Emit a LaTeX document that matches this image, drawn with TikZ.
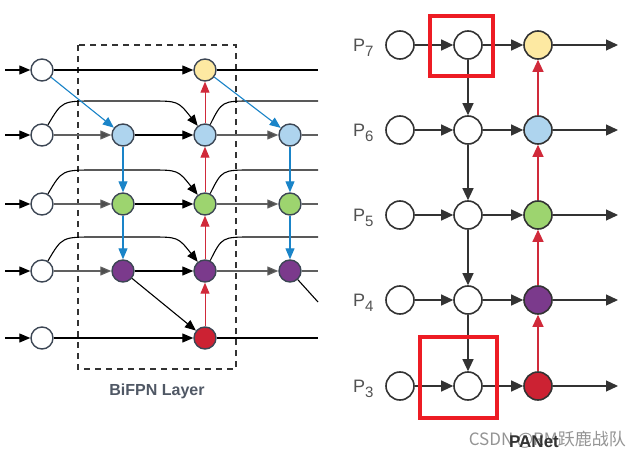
\documentclass[tikz,border=0pt]{standalone}
\usepackage{fontspec}
\setmainfont{Liberation Sans}
\newfontfamily\cjk{Noto Sans CJK SC}
\usetikzlibrary{arrows.meta}
\definecolor{nline}{HTML}{3C4654}
\definecolor{cyel}{HTML}{FDE9A2}
\definecolor{cblue}{HTML}{AED4EE}
\definecolor{cgreen}{HTML}{9DD46F}
\definecolor{cpurp}{HTML}{7B3A8C}
\definecolor{cred}{HTML}{CC2233}
\definecolor{ablue}{HTML}{1A84C8}
\definecolor{agray}{HTML}{606060}
\definecolor{ared}{HTML}{D02A3A}
\definecolor{boxred}{HTML}{ED1C24}
\definecolor{dgray}{HTML}{333333}
\newcommand{\plabel}[1]{P\raisebox{-5pt}{\fontsize{15}{16}\selectfont #1}}
\tikzset{
  lnode/.style={circle,minimum size=22pt,inner sep=0pt,draw=nline,line width=1.4pt,fill=white},
  rnode/.style={circle,minimum size=28pt,inner sep=0pt,draw=dgray,line width=1.6pt,fill=white},
  blk/.style={draw=black,line width=1.1pt,-{Triangle[length=11pt,width=9pt]}},
  blkl/.style={draw=black,line width=1.1pt},
  gry/.style={draw=agray,line width=1.1pt,-{Triangle[length=11pt,width=9pt,fill=agray!80!black]}},
  gryl/.style={draw=agray,line width=1.1pt},
  blu/.style={draw=ablue,line width=1.1pt,-{Triangle[length=11pt,width=9pt]}},
  redl/.style={draw=ared,line width=1pt,-{Triangle[length=11pt,width=9pt]}},
  parr/.style={draw=dgray,line width=1.2pt,-{Triangle[length=12pt,width=11pt]}},
  pred/.style={draw=ared,line width=1.1pt,-{Triangle[length=12pt,width=11pt]}},
  hbox/.style={draw=boxred,line width=4pt},
  plab/.style={text=dgray!85!white,font=\fontsize{18}{20}\selectfont,inner sep=0pt}
}
\begin{document}
\begin{tikzpicture}[x=1pt,y=-1pt]
\fill[white] (0,0) rectangle (641,458);
\useasboundingbox (0,0) rectangle (641,458);
% ---------------- BiFPN ----------------
\draw[draw=dgray,line width=1.5pt,dash pattern=on 6pt off 5pt] (78,45) rectangle (236,369);
\foreach \n/\y in {7/70,6/135,5/204,4/271,3/338}{
  \node[lnode] (i\n) at (42,\y) {};
  \coordinate (s\n) at (5,\y);
  \coordinate (r\n) at (318,\y);
  \draw[blk] (s\n) -- (i\n);
}
\node[lnode,fill=cblue] (a6) at (123,135) {};
\node[lnode,fill=cgreen] (a5) at (123,204) {};
\node[lnode,fill=cpurp] (a4) at (123,271) {};
\node[lnode,fill=cyel] (b7) at (205,70) {};
\node[lnode,fill=cblue] (b6) at (205,135) {};
\node[lnode,fill=cgreen] (b5) at (205,204) {};
\node[lnode,fill=cpurp] (b4) at (205,271) {};
\node[lnode,fill=cred] (b3) at (205,338) {};
\node[lnode,fill=cblue] (c6) at (290,135) {};
\node[lnode,fill=cgreen] (c5) at (290,204) {};
\node[lnode,fill=cpurp] (c4) at (290,271) {};
\coordinate (d4) at (318,302);
% row 7 and 3
\draw[blk] (i7) -- (b7);
\draw[blkl] (b7) -- (r7);
\draw[blk] (i3) -- (b3);
\draw[blkl] (b3) -- (r3);
% rows 6,5,4
\foreach \n in {6,5,4}{
  \draw[gry] (i\n) -- (a\n);
  \draw[blk] (a\n) -- (b\n);
  \draw[gry] (b\n) -- (c\n);
  \draw[gryl] (c\n) -- (r\n);
}
% skip curves
\foreach \n/\y in {6/135,5/204,4/271}{
  \pgfmathsetmacro{\t}{\y-34}
  \coordinate (p\n) at (95,\t);
  \coordinate (q\n) at (150,\t);
  \coordinate (u\n) at (252,\t);
  \coordinate (v\n) at (318,\t);
  \draw[blk] (i\n) .. controls (62,\t) .. (p\n) -- (q\n) .. controls (178,\t) .. (b\n);
  \draw[blkl] (b\n) .. controls (222,\t) .. (u\n) -- (v\n);
}
% blue downward
\draw[blu] (i7) -- (a6);
\draw[blu] (b7) -- (c6);
\draw[blu] (a6) -- (a5);
\draw[blu] (a5) -- (a4);
\draw[blu] (c6) -- (c5);
\draw[blu] (c5) -- (c4);
\draw[blk] (a4) -- (b3);
\draw[blkl] (c4) -- (d4);
% red upward
\draw[redl] (b3) -- (b4);
\draw[redl] (b4) -- (b5);
\draw[redl] (b5) -- (b6);
\draw[redl] (b6) -- (b7);
\node[text=nline!90!white,font=\bfseries\fontsize{16}{18}\selectfont] (bl) at (157,391) {BiFPN Layer};
% ---------------- PANet ----------------
\node[rnode] (A7) at (400,45) {};
\node[rnode] (B7) at (468,45) {};
\node[rnode,fill=cyel] (C7) at (538,45) {};
\node[rnode] (A6) at (400,130) {};
\node[rnode] (B6) at (468,130) {};
\node[rnode,fill=cblue] (C6) at (538,130) {};
\node[rnode] (A5) at (400,215) {};
\node[rnode] (B5) at (468,215) {};
\node[rnode,fill=cgreen] (C5) at (538,215) {};
\node[rnode] (A4) at (400,300) {};
\node[rnode] (B4) at (468,300) {};
\node[rnode,fill=cpurp] (C4) at (538,300) {};
\node[rnode] (A3) at (400,386) {};
\node[rnode] (B3) at (468,386) {};
\node[rnode,fill=cred] (C3) at (538,386) {};
\foreach \n/\y in {7/45,6/130,5/215,4/300,3/386}{
  \node[plab,anchor=base west] (L\n) at (353,\y+6) {\plabel{\n}};
  \coordinate (E\n) at (618,\y);
  \draw[parr] (A\n) -- (B\n);
  \draw[parr] (B\n) -- (C\n);
  \draw[parr] (C\n) -- (E\n);
}
\draw[parr] (B7) -- (B6);
\draw[parr] (B6) -- (B5);
\draw[parr] (B5) -- (B4);
\draw[parr] (B4) -- (B3);
\draw[pred] (C3) -- (C4);
\draw[pred] (C4) -- (C5);
\draw[pred] (C5) -- (C6);
\draw[pred] (C6) -- (C7);
\draw[hbox] (430,16) rectangle (493,76);
\draw[hbox] (420,337) rectangle (497,418);
\node[text=black!42,font=\cjk\fontsize{17}{19}\selectfont,anchor=east,inner sep=0pt] (wm) at (626,440) {CSDN @RM跃鹿战队};
\node[text=dgray,font=\bfseries\fontsize{17}{19}\selectfont,inner sep=0pt] (pn) at (534,442) {PANet};
\end{tikzpicture}
\end{document}
